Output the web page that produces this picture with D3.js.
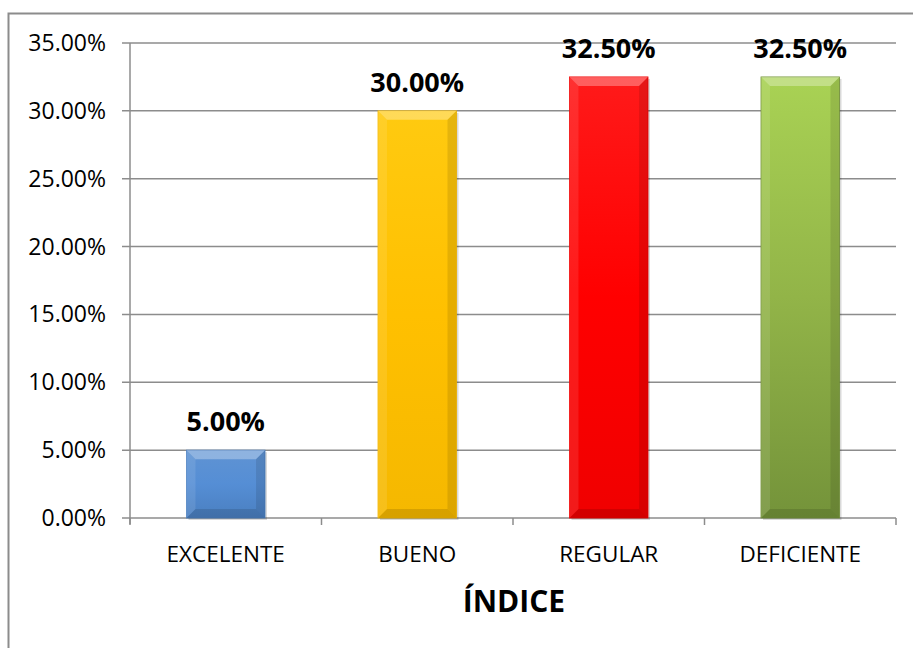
<!DOCTYPE html>
<html><head><meta charset="utf-8">
<script src="https://cdn.jsdelivr.net/npm/d3@7"></script>
<style>body{margin:0;background:#fff;overflow:hidden}svg{display:block}text{font-family:"Open Sans","Noto Sans",sans-serif}</style>
</head><body>
<script>
const categories = ["EXCELENTE","BUENO","REGULAR","DEFICIENTE"];
const values = [0.05, 0.30, 0.325, 0.325];
const yTicks = [0,0.05,0.10,0.15,0.20,0.25,0.30,0.35];
const colors = [["#5f93d3","#558ed5","#4a7fc0"],["#ffca10","#ffc000","#f5b800"],["#ff1a1a","#ff0000","#f00000"],["#a9d254","#92b448","#74933a"]];
const axisTitle = "ÍNDICE";

const W=913,H=648;
const svg=d3.select("body").append("svg").attr("width",W).attr("height",H);
svg.append("rect").attr("x",8.5).attr("y",13.5).attr("width",920).attr("height",660).attr("fill","#fff").attr("stroke","#8c8c8c").attr("stroke-width",2);

const m={l:130,r:896,t:43,b:518};
const x=d3.scaleBand().domain(categories).range([m.l,m.r]).paddingInner(0.59).paddingOuter(0.295);
const y=d3.scaleLinear().domain([0,0.35]).range([m.b,m.t]);

const defs=svg.append("defs");
colors.forEach((c,i)=>{
  const g=defs.append("linearGradient").attr("id","g"+i).attr("x1",0).attr("x2",0).attr("y1",0).attr("y2",1);
  g.append("stop").attr("offset","0%").attr("stop-color",c[0]);
  g.append("stop").attr("offset","50%").attr("stop-color",c[1]);
  g.append("stop").attr("offset","100%").attr("stop-color",c[2]);
});

// gridlines
svg.append("g").selectAll("line").data(yTicks).join("line")
  .attr("x1",m.l-8).attr("x2",m.r).attr("y1",d=>y(d)).attr("y2",d=>y(d))
  .attr("stroke","#8c8c8c").attr("stroke-width",1.5);
// y axis line
svg.append("line").attr("x1",m.l).attr("x2",m.l).attr("y1",m.t).attr("y2",m.b+6).attr("stroke","#8c8c8c").attr("stroke-width",1.5);
// x ticks at boundaries
const step=x.step();
const bounds=categories.map((c,i)=>m.l+i*step).concat([m.r]);
svg.append("g").selectAll("line").data(bounds).join("line")
  .attr("x1",d=>d).attr("x2",d=>d).attr("y1",m.b).attr("y2",m.b+7).attr("stroke","#8c8c8c").attr("stroke-width",1.5);

// y labels
svg.append("g").selectAll("text").data(yTicks).join("text")
  .attr("x",m.l-24).attr("y",d=>y(d)+8).attr("text-anchor","end")
  .attr("font-size",23).attr("fill","#000").text(d=>d3.format(".2%")(d));

// bars
const bars=svg.append("g").selectAll("g").data(values).join("g");
bars.append("rect").attr("x",(d,i)=>x(categories[i])+2).attr("y",d=>y(d)+2).attr("width",x.bandwidth()).attr("height",d=>y(0)-y(d))
  .attr("fill","rgba(0,0,0,0.15)");
bars.append("rect").attr("x",(d,i)=>x(categories[i])).attr("y",d=>y(d)).attr("width",x.bandwidth()).attr("height",d=>y(0)-y(d))
  .attr("fill",(d,i)=>`url(#g${i})`).attr("stroke",(d,i)=>colors[i][2]).attr("stroke-width",0.8);
const b=9;
bars.append("path").attr("d",(d,i)=>{const x0=x(categories[i]),x1=x0+x.bandwidth(),y0=y(d);
  return `M${x0},${y0}L${x1},${y0}L${x1-b},${y0+b}L${x0+b},${y0+b}Z`;}).attr("fill","rgba(255,255,255,0.3)");
bars.append("path").attr("d",(d,i)=>{const x0=x(categories[i]),x1=x0+x.bandwidth(),y0=y(d),y1=y(0);
  return `M${x1},${y0}L${x1},${y1}L${x1-b},${y1-b}L${x1-b},${y0+b}Z`;}).attr("fill","rgba(0,0,0,0.1)");
bars.append("path").attr("d",(d,i)=>{const x0=x(categories[i]),x1=x0+x.bandwidth(),y0=y(d),y1=y(0);
  return `M${x0},${y1}L${x1},${y1}L${x1-b},${y1-b}L${x0+b},${y1-b}Z`;}).attr("fill","rgba(0,0,0,0.12)");
bars.append("path").attr("d",(d,i)=>{const x0=x(categories[i]),y0=y(d),y1=y(0);
  return `M${x0},${y0}L${x0+b},${y0+b}L${x0+b},${y1-b}L${x0},${y1}Z`;}).attr("fill","rgba(255,255,255,0.1)");

// value labels
bars.append("text").attr("x",(d,i)=>x(categories[i])+x.bandwidth()/2).attr("y",d=>y(d)-19)
  .attr("text-anchor","middle").attr("font-size",27).attr("font-weight","bold").attr("fill","#000")
  .text(d=>d3.format(".2%")(d));

// x labels
svg.append("g").selectAll("text").data(categories).join("text")
  .attr("x",d=>x(d)+x.bandwidth()/2).attr("y",562).attr("text-anchor","middle").attr("font-size",22.5).attr("fill","#000").text(d=>d);

svg.append("text").attr("x",514).attr("y",612).attr("text-anchor","middle").attr("font-size",30).attr("font-weight","bold").text(axisTitle);
</script>
</body></html>
